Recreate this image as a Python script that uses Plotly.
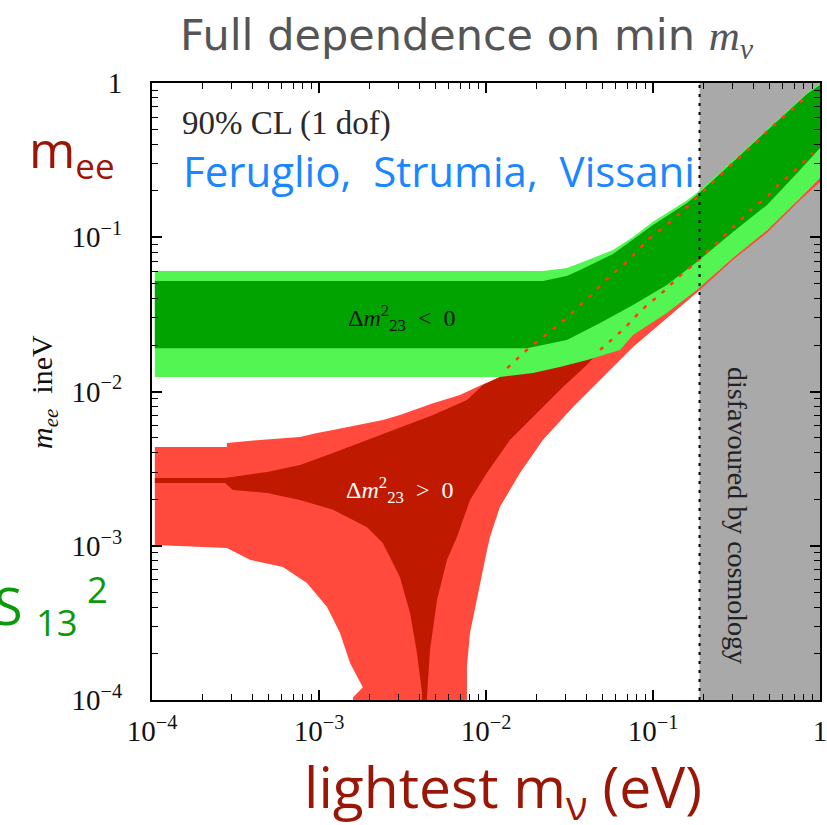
import plotly.graph_objects as go

# ---------------- data (eV) ----------------
X_COSMO = 0.19  # cosmology bound on lightest mass

# Normal hierarchy (Δm²23 > 0): outer (light red) band
NH_OUT_TOP_X = [1.04e-4, 2.81e-4, 2.81e-4, 4.43e-4, 7.69e-4, 9.73e-4, 1.213e-3, 1.94e-3, 2.41e-3, 3.05e-3, 4.82e-3, 6.98e-3, 8.83e-3, 1.21e-2]
NH_OUT_TOP_Y = [4.37e-3, 4.37e-3, 4.63e-3, 4.85e-3, 5.07e-3, 5.38e-3, 5.62e-3, 6.25e-3, 6.53e-3, 7.05e-3, 8.40e-3, 9.48e-3, 1.07e-2, 1.24e-2]
NH_OUT_LOW_X = [1.0, 0.759, 0.482, 0.301, 0.191, 0.0759, 0.0634, 0.0482, 0.0332, 0.0219, 0.0160, 0.0121, 0.01057, 0.01014,
                8.83e-3, 8.02e-3, 7.69e-3, 7.69e-3, 1.60e-3, 1.60e-3, 1.83e-3, 1.534e-3, 1.336e-3, 1.117e-3, 8.47e-4, 6.08e-4,
                3.86e-4, 2.81e-4, 1.04e-4]
NH_OUT_LOW_Y = [0.228, 0.174, 0.107, 0.0713, 0.0455, 0.0194, 0.016, 0.0119, 7.94e-3, 4.85e-3, 2.97e-3, 1.78e-3, 1.14e-3, 9.37e-4,
                4.45e-4, 2.72e-4, 1.64e-4, 1e-5, 1e-5, 1.04e-4, 1.21e-4, 1.74e-4, 2.72e-4, 4.01e-4, 5.74e-4, 7.28e-4,
                8.1e-4, 9.66e-4, 1.01e-3]

# Normal hierarchy: inner (dark red) band
NH_IN_TOP_X = [1.04e-4, 2.74e-4, 4.89e-4, 7.69e-4, 1.213e-3, 1.94e-3, 3.05e-3, 4.82e-3, 7.69e-3, 9.59e-3, 1.21e-2]
NH_IN_TOP_Y = [2.75e-3, 2.75e-3, 3.01e-3, 3.34e-3, 3.99e-3, 4.85e-3, 5.80e-3, 7.05e-3, 8.80e-3, 1.10e-2, 1.24e-2]
NH_IN_BRANCH_X = [0.0403, 0.0289, 0.0202, 0.0139, 0.01014, 8.02e-3, 6.70e-3, 5.84e-3, 5.09e-3, 4.62e-3, 4.43e-3, 4.43e-3,
                  4.14e-3, 4.14e-3, 3.86e-3, 3.51e-3, 3.05e-3, 2.41e-3, 1.94e-3, 1.213e-3, 7.69e-4, 4.89e-4, 3.05e-4,
                  2.74e-4, 1.04e-4]
NH_IN_BRANCH_Y = [0.0149, 0.0107, 7.26e-3, 4.85e-3, 2.97e-3, 1.98e-3, 1.14e-3, 8.1e-4, 4.45e-4, 2.11e-4, 1.04e-4, 1e-5,
                  1e-5, 1.11e-4, 2.02e-4, 3.66e-4, 6.27e-4, 1.04e-3, 1.32e-3, 1.71e-3, 1.98e-3, 2.2e-3, 2.3e-3,
                  2.55e-3, 2.55e-3]
NH_RIGHT_X = [1.0, 1.0]
NH_RIGHT_Y = [0.95, 0.38]

# NH band edges running through the inverted-hierarchy band (red dotted)
UPPER_DOT_X = [1.34e-2, 1.56e-2, 1.83e-2, 2.19e-2, 2.59e-2, 3.10e-2, 3.66e-2, 4.31e-2, 4.95e-2, 5.92e-2, 6.98e-2, 8.13e-2,
               9.59e-2, 0.115, 0.136, 0.160, 0.219, 0.252, 0.301, 0.356, 0.420, 0.489, 0.592, 0.689, 0.836]
UPPER_DOT_Y = [1.42e-2, 1.65e-2, 1.94e-2, 2.25e-2, 2.62e-2, 3.04e-2, 3.64e-2, 4.23e-2, 5.05e-2, 5.96e-2, 6.92e-2, 8.26e-2,
               9.89e-2, 0.115, 0.135, 0.157, 0.218, 0.253, 0.303, 0.357, 0.414, 0.495, 0.593, 0.689, 0.82]
LOWER_DOT_X = [0.0482, 0.0576, 0.0679, 0.078, 0.0921, 0.110, 0.130, 0.151, 0.183, 0.210, 0.245, 0.289, 0.341, 0.397,
               0.482, 0.561, 0.661, 0.780, 0.908]
LOWER_DOT_Y = [0.0186, 0.0222, 0.0258, 0.0304, 0.0364, 0.0423, 0.0505, 0.0586, 0.0692, 0.0802, 0.0931, 0.111, 0.133,
               0.155, 0.182, 0.218, 0.253, 0.303, 0.352]

# Inverted hierarchy (Δm²23 < 0): outer (light green) band
IH_OUT_TOP_X = [1.04e-4, 0.0219, 0.0305, 0.0366, 0.0576, 0.0759, 0.1, 0.160, 0.183, 0.301, 0.600, 0.836, 1.0]
IH_OUT_TOP_Y = [0.0604, 0.0604, 0.0632, 0.068, 0.0826, 0.1005, 0.126, 0.174, 0.194, 0.317, 0.630, 0.861, 1.0]
IH_OUT_LOW_X = [1.0, 0.759, 0.482, 0.301, 0.183, 0.121, 0.0759, 0.0634, 0.0403, 0.0277, 0.0191, 0.0121, 1.04e-4]
IH_OUT_LOW_Y = [0.242, 0.179, 0.111, 0.0733, 0.0455, 0.0323, 0.0232, 0.0186, 0.016, 0.0144, 0.0132, 0.0124, 0.0124]

# Inverted hierarchy: inner (dark green) band
IH_IN_TOP_X = [1.04e-4, 0.0219, 0.0305, 0.0366, 0.0576, 0.0759, 0.1, 0.160, 0.183, 0.301, 0.600, 0.836, 1.0]
IH_IN_TOP_Y = [0.052, 0.052, 0.0561, 0.0614, 0.0778, 0.096, 0.12, 0.167, 0.188, 0.308, 0.611, 0.85, 0.97]
IH_IN_LOW_X = [1.0, 0.759, 0.482, 0.301, 0.183, 0.121, 0.0759, 0.0482, 0.0305, 0.0176, 1.04e-4]
IH_IN_LOW_Y = [0.379, 0.273, 0.162, 0.108, 0.0692, 0.049, 0.0364, 0.0278, 0.0216, 0.0191, 0.0191]

AXIS_RANGE = [1e-4, 1.0]
TICK_VALS = [1e-4, 1e-3, 1e-2, 1e-1, 1]
TICK_TEXT = ["10<sup>−4</sup>", "10<sup>−3</sup>", "10<sup>−2</sup>", "10<sup>−1</sup>", "1"]
MINOR_DIGITS = [2, 3, 4, 5, 6, 7, 8, 9]

# ---------------- styles ----------------
C_LRED = "#ff4a3d"
C_DRED = "#bf1a00"
C_LGREEN = "#52f552"
C_DGREEN = "#00a300"
C_GRAY = "#a9a9a9"
C_DOT = "#ff3a1a"
C_LABEL = "#9a1606"
SERIF = "Liberation Serif"
SANS = "Open Sans"

fig = go.Figure()


def poly(xs, ys, color):
    fig.add_trace(go.Scatter(x=xs, y=ys, mode="lines", fill="toself", fillcolor=color,
                             line=dict(width=0, color=color), hoverinfo="skip", showlegend=False))


# cosmology-disfavoured region
poly([X_COSMO, AXIS_RANGE[1], AXIS_RANGE[1], X_COSMO],
     [AXIS_RANGE[0], AXIS_RANGE[0], AXIS_RANGE[1], AXIS_RANGE[1]], C_GRAY)

# normal hierarchy
poly(NH_OUT_TOP_X + UPPER_DOT_X + NH_RIGHT_X[:1] + NH_OUT_LOW_X,
     NH_OUT_TOP_Y + UPPER_DOT_Y + NH_RIGHT_Y[:1] + NH_OUT_LOW_Y, C_LRED)
poly(NH_IN_TOP_X + UPPER_DOT_X + NH_RIGHT_X + LOWER_DOT_X[::-1] + NH_IN_BRANCH_X,
     NH_IN_TOP_Y + UPPER_DOT_Y + NH_RIGHT_Y + LOWER_DOT_Y[::-1] + NH_IN_BRANCH_Y, C_DRED)

# inverted hierarchy
poly(IH_OUT_TOP_X + IH_OUT_LOW_X, IH_OUT_TOP_Y + IH_OUT_LOW_Y, C_LGREEN)
poly(IH_IN_TOP_X + IH_IN_LOW_X, IH_IN_TOP_Y + IH_IN_LOW_Y, C_DGREEN)

# dotted NH edges
for xs, ys in [(UPPER_DOT_X, UPPER_DOT_Y), (LOWER_DOT_X, LOWER_DOT_Y)]:
    fig.add_trace(go.Scatter(x=xs, y=ys, mode="lines", line=dict(color=C_DOT, width=2.5, dash="4px,8px"),
                             hoverinfo="skip", showlegend=False))

# cosmology bound line
fig.add_trace(go.Scatter(x=[X_COSMO, X_COSMO], y=AXIS_RANGE, mode="lines",
                         line=dict(color="black", width=2, dash="3px,6px"), hoverinfo="skip", showlegend=False))

minor_vals = [d * t for t in TICK_VALS[:-1] for d in MINOR_DIGITS]

axis_common = dict(
    type="log", range=[-4, 0], showline=True, linecolor="black", linewidth=2, mirror="allticks",
    ticks="inside", ticklen=10, tickwidth=1.5, tickcolor="black", automargin=False,
    ticklabeloverflow="allow",
    tickvals=TICK_VALS, ticktext=TICK_TEXT, tickfont=dict(family=SERIF, size=29, color="#111"),
    minor=dict(ticks="inside", ticklen=6, tickwidth=1.3, tickcolor="black", tickvals=minor_vals, showgrid=False),
    showgrid=False, zeroline=False,
)
fig.update_xaxes(**axis_common, ticklabelstandoff=4)
fig.update_yaxes(**axis_common, ticklabelstandoff=22)


def P(px, py):
    return (px - 152) / 668.0, (700 - py) / 617.0


annots = []


def add(text, px, py, size, color, family, xanchor="center", angle=0):
    x, y = P(px, py)
    annots.append(dict(text=text, x=x, y=y, xref="paper", yref="paper", showarrow=False,
                       xanchor=xanchor, yanchor="middle", textangle=angle,
                       font=dict(size=size, color=color, family=family)))


add("Full dependence on min <span style='font-family:Liberation Serif'><i>m<sub>ν</sub></i></span>",
    467, 38, 43, "#555555", "DejaVu Sans")
add("90% CL (1 dof)", 180, 124, 33, "#2a2a2a", SERIF, xanchor="left")
add("Feruglio,  Strumia,  Vissani", 439, 170, 42, "#1a86ff", SANS)
add("m<sub>ee</sub>", 72, 152, 50, C_LABEL, SANS)
add("S <sub>13 </sub><sup>2</sup>", 110, 605, 52, "#0a9a0a", SANS, xanchor="right")
add("<i>m<sub>ee</sub></i>  ineV", 44, 392, 30, "#111", SERIF, angle=-90)
add("Δ<i>m</i><sup>2</sup><sub>23</sub>  <  0", 402, 318, 24, "#111", SERIF)
add("Δ<i>m</i><sup>2</sup><sub>23</sub>  >  0", 400, 490, 24, "white", SERIF)
add("disfavoured by cosmology", 738, 515, 28, "#222", SERIF, angle=90)
add("lightest m<sub>ν</sub> (eV)", 503, 790, 57, C_LABEL, SANS)

fig.update_layout(
    width=827, height=825, autosize=False,
    margin=dict(l=152, r=7, t=83, b=125, pad=0),
    paper_bgcolor="white", plot_bgcolor="white",
    annotations=annots, showlegend=False,
)

fig.write_html("out.html", config={"displayModeBar": False},
               post_script="document.body.style.margin='0';document.body.style.overflow='hidden';")
